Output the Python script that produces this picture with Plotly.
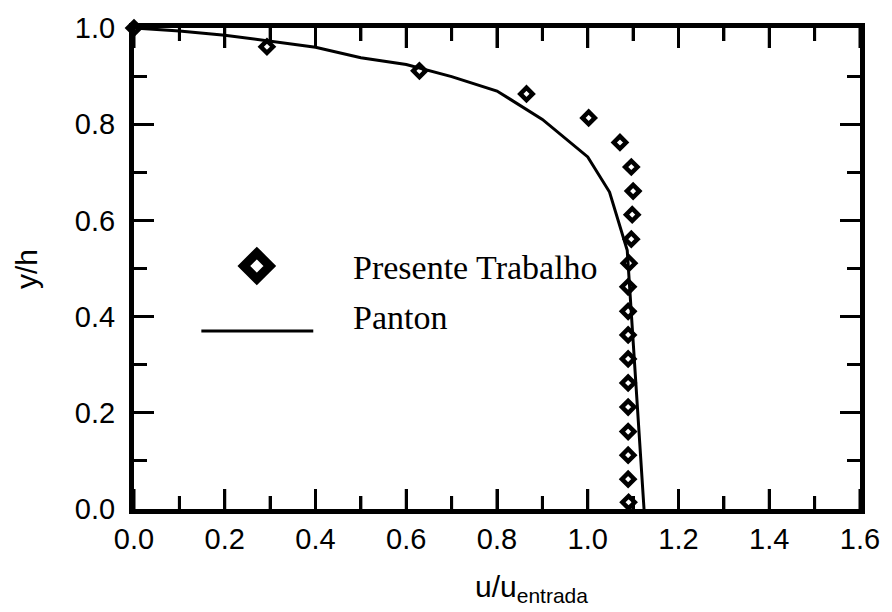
import plotly.graph_objects as go

# Presente Trabalho (diamonds)
pt_u = [0.0, 0.293, 0.629, 0.865, 1.002, 1.071, 1.096, 1.100, 1.098, 1.096, 1.091,
        1.089, 1.089, 1.089, 1.089, 1.089, 1.089, 1.089, 1.089, 1.089, 1.090]
pt_y = [1.0, 0.961, 0.911, 0.863, 0.813, 0.762, 0.711, 0.661, 0.612, 0.561, 0.511,
        0.462, 0.411, 0.362, 0.312, 0.262, 0.212, 0.161, 0.112, 0.062, 0.014]

# Panton (line)
pan_u = [0.0, 0.1, 0.2, 0.4, 0.5, 0.6, 0.7, 0.8, 0.9, 1.0, 1.048, 1.087, 1.124]
pan_y = [1.0, 0.994, 0.985, 0.96, 0.938, 0.924, 0.899, 0.869, 0.810, 0.732, 0.659, 0.538, 0.0]

# tick positions on the u axis (major every 0.2, minor every 0.1)
x_major = [0.0, 0.2, 0.4, 0.6, 0.8, 1.0, 1.2, 1.4, 1.6]
x_minor = [0.1, 0.3, 0.5, 0.7, 0.9, 1.1, 1.3, 1.5]

W, H = 892, 612
L, R, T, B = 134, 25, 28, 103
pw, ph = W - L - R, H - T - B

def px(x):
    return (x - L) / pw

def py(y):
    return (H - B - y) / ph

fig = go.Figure()
fig.add_trace(go.Scatter(x=pan_u, y=pan_y, mode="lines",
                         line=dict(color="black", width=3), cliponaxis=False,
                         showlegend=False))
fig.add_trace(go.Scatter(x=pt_u, y=pt_y, mode="markers",
                         marker=dict(symbol="diamond-open", size=9.5, color="black",
                                     line=dict(color="black", width=4.5)),
                         cliponaxis=False, showlegend=False))

FS = 29
tickfont = dict(family="Arial, Liberation Sans, sans-serif", size=FS, color="black")
minor = dict(ticks="inside", ticklen=13, tickwidth=3, dtick=0.1, tick0=0, tickcolor="black")
axis_common = dict(showline=True, linewidth=5, linecolor="black", mirror="allticks",
                   ticks="inside", ticklen=20, tickwidth=3, tickcolor="black",
                   showgrid=False, zeroline=False, tickfont=tickfont,
                   layer="above traces", minor=minor)

fig.update_layout(
    xaxis=dict(range=[0, 1.6], tickmode="linear", tick0=0, dtick=0.2, tickformat=".1f",
               **axis_common),
    yaxis=dict(range=[0, 1.0], tickmode="linear", tick0=0, dtick=0.2, tickformat=".1f",
               ticklabelstandoff=8, **axis_common),
)

annotations = [
    dict(text="u/u<sub>entrada</sub>", x=px(476), y=py(568), xref="paper", yref="paper",
         xanchor="left", yanchor="top", showarrow=False,
         font=dict(family="Arial, Liberation Sans, sans-serif", size=30, color="black")),
    dict(text="y/h", x=px(25), y=py(269), xref="paper", yref="paper",
         xanchor="center", yanchor="middle", textangle=-90, showarrow=False,
         font=dict(family="Arial, Liberation Sans, sans-serif", size=30, color="black")),
    dict(text="Presente Trabalho", x=px(353), y=py(267), xref="paper", yref="paper",
         xanchor="left", yanchor="middle", showarrow=False,
         font=dict(family="Times New Roman, Liberation Serif, serif", size=34, color="black")),
    dict(text="Panton", x=px(353), y=py(318), xref="paper", yref="paper",
         xanchor="left", yanchor="middle", showarrow=False,
         font=dict(family="Times New Roman, Liberation Serif, serif", size=34, color="black")),
]

shapes = [
    dict(type="path", xref="paper", yref="paper", xsizemode="pixel", ysizemode="pixel",
         xanchor=px(258), yanchor=py(266),
         path="M 0,13 L 13,0 L 0,-13 L -13,0 Z",
         line=dict(color="black", width=9), fillcolor="rgba(0,0,0,0)"),
    dict(type="line", xref="paper", yref="paper", x0=px(202), x1=px(315),
         y0=py(331), y1=py(331), line=dict(color="black", width=3)),
]

# inside ticks on the bottom and top edges, placed through the u axis scale
maj_len = 20 / ph
min_len = 13 / ph
for xv in x_major:
    shapes.append(dict(type="line", xref="x", yref="paper", x0=xv, x1=xv, y0=0, y1=maj_len,
                       line=dict(color="black", width=3)))
    shapes.append(dict(type="line", xref="x", yref="paper", x0=xv, x1=xv, y0=1, y1=1 - maj_len,
                       line=dict(color="black", width=3)))
for xv in x_minor:
    shapes.append(dict(type="line", xref="x", yref="paper", x0=xv, x1=xv, y0=0, y1=min_len,
                       line=dict(color="black", width=3)))
    shapes.append(dict(type="line", xref="x", yref="paper", x0=xv, x1=xv, y0=1, y1=1 - min_len,
                       line=dict(color="black", width=3)))

fig.update_layout(width=W, height=H, margin=dict(l=L, r=R, t=T, b=B),
                  plot_bgcolor="white", paper_bgcolor="white",
                  annotations=annotations, shapes=shapes, showlegend=False)

fig.write_html("out.html")
